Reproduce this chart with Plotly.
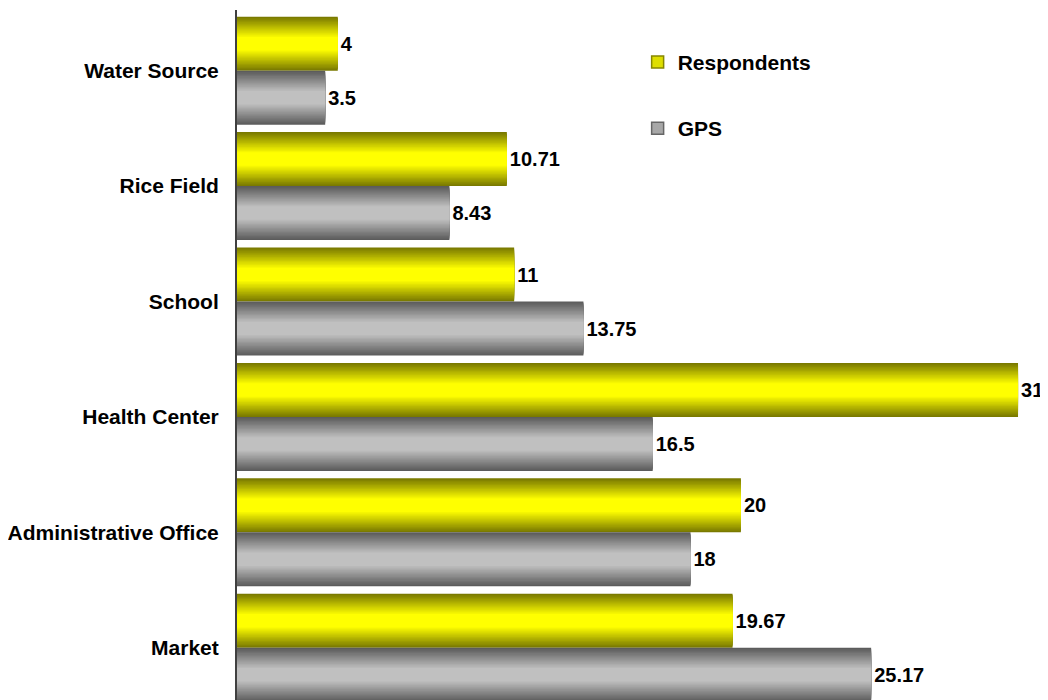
import plotly.graph_objects as go

categories = ["Water Source", "Rice Field", "School", "Health Center",
              "Administrative Office", "Market"]
respondents = [4, 10.71, 11, 31, 20, 19.67]
gps = [3.5, 8.43, 13.75, 16.5, 18, 25.17]

FONT = "Liberation Sans, Arial, sans-serif"
BAR_W = 0.468
N_LAYERS = 16


def mix(c1, c2, t):
    return "rgb(%d,%d,%d)" % tuple(round(a + (b - a) * t) for a, b in zip(c1, c2))


def add_gradient_bars(fig, values, name, top, edge, center):
    # fake a vertical gradient by stacking narrower, lighter bars on top
    for i in range(N_LAYERS):
        frac = 1 - 0.75 * i / (N_LAYERS - 1)
        w = BAR_W * frac
        mid = -BAR_W / 2 if top else BAR_W / 2
        fig.add_trace(
            go.Bar(
                y=categories,
                x=values,
                orientation="h",
                width=w,
                offset=mid - w / 2,
                marker_color=mix(edge, center, i / (N_LAYERS - 1)),
                marker_line_width=0,
                showlegend=False,
                legendgroup=name,
                text=values if i == 0 else None,
                texttemplate="%{x}" if i == 0 else None,
                textposition="outside" if i == 0 else "none",
                textfont=dict(family=FONT, size=20, color="black", weight="bold"),
                cliponaxis=False,
                hoverinfo="x+y",
                name=name,
            )
        )
    # legend swatch
    fig.add_trace(
        go.Bar(
            y=[None],
            x=[None],
            orientation="h",
            name=name,
            legendgroup=name,
            marker_color=mix(edge, center, 0.75),
            marker_line_color=mix(edge, center, 0.1),
            marker_line_width=1.5,
        )
    )


fig = go.Figure()
add_gradient_bars(fig, respondents, "Respondents", True, (122, 122, 0), (255, 255, 0))
add_gradient_bars(fig, gps, "GPS", False, (92, 92, 92), (192, 192, 192))

# page body has an 8px margin, so the figure is sized to fit inside it
fig.update_layout(
    width=1040,
    height=692,
    barmode="overlay",
    plot_bgcolor="white",
    paper_bgcolor="white",
    margin=dict(l=225, r=0, t=2, b=0),
    font=dict(family=FONT, size=20, color="black"),
    legend=dict(
        x=0.494,
        y=0.954,
        xanchor="left",
        yanchor="top",
        font=dict(family=FONT, size=21, color="black", weight="bold"),
        tracegroupgap=36,
        traceorder="grouped",
        bgcolor="rgba(0,0,0,0)",
    ),
)
fig.update_xaxes(
    range=[0, 32.19],
    showticklabels=False,
    showgrid=False,
    zeroline=False,
    showline=False,
)
fig.update_yaxes(
    range=[5.453, -0.526],
    showgrid=False,
    zeroline=False,
    showline=True,
    linecolor="#404040",
    linewidth=2,
    ticks="",
    ticklabelstandoff=12,
    tickfont=dict(family=FONT, size=21, color="black", weight="bold"),
)

fig.write_html("out.html")
